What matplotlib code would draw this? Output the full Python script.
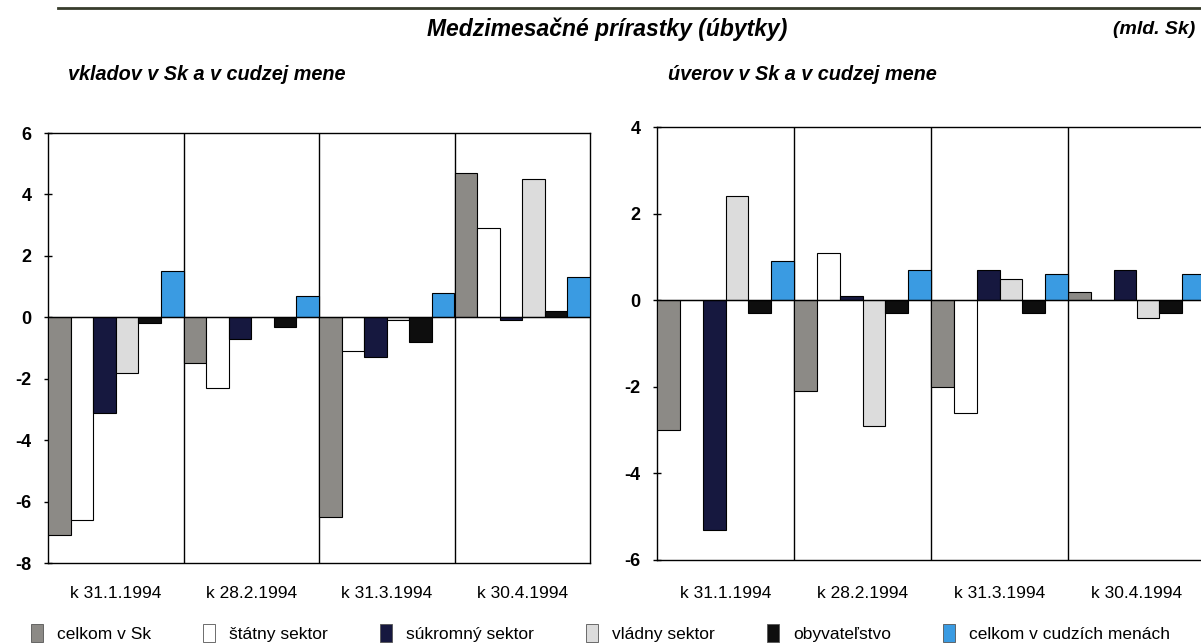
import matplotlib
matplotlib.use("Agg")
import matplotlib.pyplot as plt
import numpy as np
from matplotlib.patches import Patch
from matplotlib.lines import Line2D

plt.rcParams['font.family'] = ['Liberation Sans', 'DejaVu Sans']

# data (mld. Sk)
dates = ['k 31.1.1994', 'k 28.2.1994', 'k 31.3.1994', 'k 30.4.1994']
series = ['celkom v Sk', 'štátny sektor', 'súkromný sektor',
          'vládny sektor', 'obyvateľstvo', 'celkom v cudzích menách']

vklady = {
    'celkom v Sk':            [-7.1, -1.5, -6.5, 4.7],
    'štátny sektor':          [-6.6, -2.3, -1.1, 2.9],
    'súkromný sektor':        [-3.1, -0.7, -1.3, -0.1],
    'vládny sektor':          [-1.8, 0.0, -0.1, 4.5],
    'obyvateľstvo':           [-0.2, -0.3, -0.8, 0.2],
    'celkom v cudzích menách': [1.5, 0.7, 0.8, 1.3],
}
uvery = {
    'celkom v Sk':            [-3.0, -2.1, -2.0, 0.2],
    'štátny sektor':          [0.0, 1.1, -2.6, 0.0],
    'súkromný sektor':        [-5.3, 0.1, 0.7, 0.7],
    'vládny sektor':          [2.4, -2.9, 0.5, -0.4],
    'obyvateľstvo':           [-0.3, -0.3, -0.3, -0.3],
    'celkom v cudzích menách': [0.9, 0.7, 0.6, 0.6],
}

colors = ['#8c8a86', '#ffffff', '#16183f', '#dcdcdc', '#0e0e0e', '#3a9be2']

W, H = 1201, 644
fig = plt.figure(figsize=(W / 100, H / 100), dpi=100)


def draw(ax, data, ylim, yticks, xpad):
    x = np.arange(len(dates))
    bw = 1.0 / len(series)
    for i, (name, c) in enumerate(zip(series, colors)):
        ax.bar(x - 0.5 + bw * (i + 0.5), data[name], width=bw, color=c,
               edgecolor='black', linewidth=0.8, zorder=3)
    ax.set_xlim(-0.5, len(dates) - 0.5)
    ax.set_ylim(*ylim)
    ax.set_yticks(yticks)
    ax.set_yticklabels([str(t) for t in yticks], fontweight='bold', fontsize=13)
    ax.set_xticks(x)
    ax.set_xticklabels(dates, fontsize=12.5)
    ax.tick_params(axis='x', length=0, pad=xpad)
    ax.tick_params(axis='y', direction='inout', length=6, width=1, pad=9)
    ax.axhline(0, color='black', lw=1, zorder=4)
    for b in x[:-1] + 0.5:
        ax.axvline(b, color='black', lw=1, zorder=2)
    for s in ax.spines.values():
        s.set_linewidth(1)
        s.set_color('black')


ax1 = fig.add_axes([48 / W, 1 - 563 / H, 542 / W, 430 / H])
draw(ax1, vklady, (-8, 6), [-8, -6, -4, -2, 0, 2, 4, 6], 16.5)

ax2 = fig.add_axes([657 / W, 1 - 560 / H, 548 / W, 433 / H])
draw(ax2, uvery, (-6, 4), [-6, -4, -2, 0, 2, 4], 18.5)

# header
fig.add_artist(Line2D([58 / W, 1.0], [1 - 8 / H, 1 - 8 / H], color='#383c2c', lw=2))
fig.text(607 / W, 1 - 29 / H, 'Medzimesačné prírastky (úbytky)', ha='center', va='center',
         fontsize=16.5, fontweight='bold', fontstyle='italic')
fig.text(1195 / W, 1 - 29 / H, '(mld. Sk)', ha='right', va='center',
         fontsize=14, fontweight='bold', fontstyle='italic')
fig.text(68 / W, 1 - 74 / H, 'vkladov v Sk a v cudzej mene', ha='left', va='center',
         fontsize=14.3, fontweight='bold', fontstyle='italic')
fig.text(668 / W, 1 - 74 / H, 'úverov v Sk a v cudzej mene', ha='left', va='center',
         fontsize=14.3, fontweight='bold', fontstyle='italic')

handles = [Patch(facecolor=c, edgecolor='#555555', linewidth=0.6) for c in colors]
fig.legend(handles, series, loc='lower left', bbox_to_anchor=(31 / W, 2 / H),
           ncol=6, frameon=False, fontsize=12.5, handlelength=0.7, handleheight=1.2,
           handletextpad=0.8, columnspacing=3.0, borderpad=0, borderaxespad=0)

fig.savefig('out.png', dpi=100)
